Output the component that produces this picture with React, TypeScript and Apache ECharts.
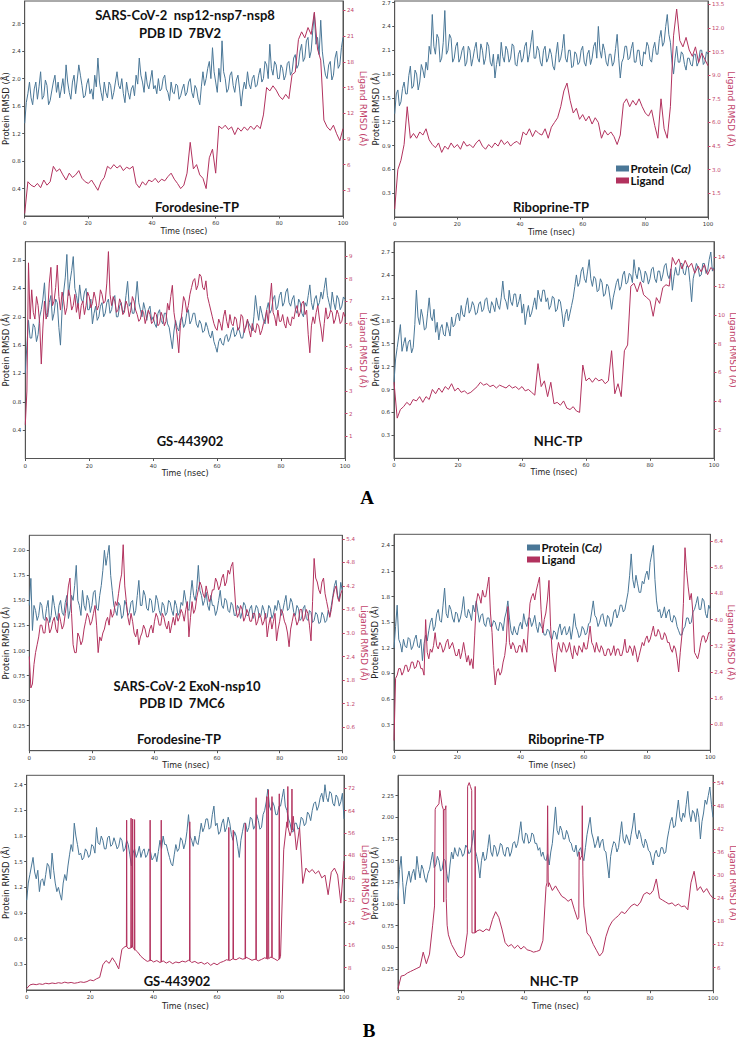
import React, { useEffect, useRef } from "react";
import * as echarts from "echarts";

// ---------- data: Time in nsec from 0 to 100; arrays are evenly spaced frames ----------
const X_TICKS = [0, 20, 40, 60, 80, 100];

// A: SARS-CoV-2 nsp12-nsp7-nsp8 (7BV2) — every 0.5 ns for protein, 1 ns for ligands unless stated
const P1_PROTEIN = [1.35,1.65,1.78,1.95,1.72,1.62,1.85,1.95,1.70,1.88,2.10,1.70,1.75,1.98,1.90,1.62,1.68,1.82,1.95,2.05,1.80,1.95,1.72,1.85,2.00,1.78,2.20,1.95,1.80,1.70,1.95,2.05,1.78,1.98,2.20,2.05,1.90,1.72,1.75,1.92,2.00,1.78,1.85,1.70,2.05,1.88,2.30,1.95,1.80,1.68,1.95,1.80,1.72,1.95,1.90,1.70,1.80,1.95,2.10,1.90,1.85,2.00,1.78,1.65,1.95,1.80,1.70,1.85,1.90,1.75,2.05,1.92,2.30,2.05,1.95,1.80,2.10,1.92,1.85,1.98,2.12,1.85,1.90,1.78,2.00,1.82,1.85,2.00,2.05,1.85,1.80,1.68,1.95,1.80,1.78,1.92,1.90,1.70,1.75,1.85,1.92,1.75,1.80,1.95,2.00,1.80,1.72,1.90,1.85,1.70,1.62,1.88,2.10,1.90,2.00,2.15,2.25,2.00,2.45,2.10,1.95,1.80,2.15,1.95,2.55,2.10,2.00,1.80,1.85,2.05,2.10,1.90,1.80,1.98,2.05,1.85,1.60,1.82,1.95,1.85,2.10,1.92,1.85,2.00,2.05,1.88,1.90,2.05,2.15,1.95,2.00,2.25,2.20,2.00,2.50,2.15,2.05,2.25,2.20,2.00,2.00,2.20,2.15,1.98,2.05,2.22,2.25,2.05,2.10,2.30,2.35,2.15,2.20,2.40,2.50,2.25,2.30,2.55,2.60,2.30,2.40,2.70,2.95,2.50,2.60,2.35,2.85,2.40,2.20,2.05,2.00,2.20,2.25,1.98,2.05,2.30,2.40,2.15,2.20,2.45,2.60];
const P1_LIGAND = [0.3,4.0,3.6,3.4,3.8,3.3,4.2,3.6,4.0,5.8,5.2,5.5,4.8,4.2,5.0,4.5,4.8,5.3,4.4,4.0,3.8,4.2,3.6,3.0,4.0,4.5,5.8,5.5,6.0,5.6,5.9,5.3,5.7,5.5,5.8,3.8,3.3,4.0,3.6,4.2,4.0,4.4,3.9,4.3,4.1,4.6,5.0,4.3,3.8,3.2,3.6,5.0,8.6,5.5,6.0,4.8,4.4,3.2,6.8,7.8,5.0,10.5,10.2,10.6,10.1,10.4,9.5,10.3,9.9,10.4,10.0,10.5,10.1,10.6,10.2,11.8,15.0,14.6,15.2,14.7,14.0,13.6,14.2,13.7,16.5,16.8,20.6,21.5,20.8,22.0,21.2,23.8,19.5,18.2,11.2,10.4,10.0,10.6,9.6,8.8,10.2];
const P2_PROTEIN = [1.30,1.55,1.60,1.40,1.45,1.62,1.70,1.55,1.55,1.78,1.90,1.62,1.65,1.85,1.80,1.60,1.70,1.92,1.85,1.75,1.95,1.85,2.15,2.05,2.55,2.15,2.05,2.30,2.25,1.95,2.00,2.20,2.60,2.05,2.10,2.30,2.25,1.95,2.00,2.15,2.20,1.95,2.00,2.10,2.15,1.90,1.95,2.15,2.10,1.90,2.00,2.12,2.20,2.00,1.95,2.18,2.10,1.92,2.00,2.20,2.15,1.95,1.90,2.05,1.75,1.92,2.05,1.90,2.20,2.02,1.95,2.15,2.10,1.95,2.00,2.18,2.15,1.92,1.90,2.05,2.10,1.95,2.00,2.15,2.20,1.95,2.05,2.20,2.35,2.00,2.00,2.15,2.10,1.95,1.90,2.10,2.15,1.95,2.00,2.12,2.05,1.90,1.85,2.05,2.20,1.95,2.00,2.12,2.30,2.00,1.95,2.10,2.10,1.88,1.90,2.08,2.05,1.92,1.95,2.10,2.15,1.95,1.90,2.05,2.10,1.92,2.00,2.15,2.20,2.00,2.40,2.10,2.00,2.18,2.10,1.95,1.90,2.05,2.05,1.90,1.95,2.12,2.30,2.00,1.75,1.95,2.00,2.15,2.15,1.98,2.00,2.12,2.20,1.95,1.95,2.10,2.10,1.92,1.90,2.08,2.05,2.20,2.15,1.98,1.95,2.12,2.20,2.05,2.05,2.25,2.35,2.15,2.20,2.40,2.55,2.30,2.20,1.95,1.80,2.00,2.15,1.95,1.95,2.08,2.05,1.92,1.85,2.00,2.00,1.92,1.90,2.05,2.05,1.90,1.95,2.10,2.10,1.92,1.95,2.08,2.05];
const P2_LIGAND = [0.5,3.0,3.6,4.6,7.0,5.0,5.3,5.0,5.4,5.2,5.6,4.9,4.6,4.4,4.7,4.1,4.5,4.3,4.7,4.4,4.6,4.3,4.8,4.5,4.6,4.4,4.7,4.9,4.5,4.3,4.6,4.4,4.7,4.5,4.9,4.6,4.8,4.5,4.7,4.8,4.6,5.4,5.2,5.6,5.1,5.5,5.3,5.2,5.6,5.0,5.7,6.0,6.3,7.0,8.0,8.5,7.4,6.6,6.9,6.2,6.5,6.1,6.4,5.9,6.3,6.0,5.0,5.5,5.2,5.4,5.1,4.6,5.2,7.2,7.5,7.0,7.4,7.1,7.5,7.0,6.6,6.4,6.8,5.8,5.0,7.5,5.6,5.0,7.0,11.5,13.2,11.2,10.8,11.4,10.6,10.2,10.8,9.8,10.4,10.0,9.6];
const P3_PROTEIN = [1.20,1.60,1.95,1.70,1.70,1.90,1.85,1.65,1.75,2.00,2.10,2.25,2.48,2.05,2.00,2.20,2.30,1.95,2.05,2.25,2.20,1.85,1.60,2.10,2.35,2.55,2.88,2.30,2.50,2.65,2.85,2.40,2.30,2.15,2.45,2.25,2.20,2.35,2.40,2.10,2.10,2.25,1.90,2.05,2.15,1.95,2.00,2.15,2.20,2.00,2.05,2.20,2.25,2.05,2.10,2.25,2.30,2.00,2.00,2.15,2.20,2.05,2.10,2.30,2.50,2.15,2.20,2.05,2.05,2.25,2.50,2.20,2.10,2.00,2.20,2.10,1.95,2.10,2.15,1.95,2.00,1.90,1.85,2.05,2.10,1.95,1.90,2.05,2.05,1.90,1.85,1.70,1.55,1.80,1.95,1.85,1.80,1.95,2.00,1.85,1.90,2.05,2.10,1.90,1.95,2.05,2.05,1.90,1.85,1.95,1.90,1.78,1.80,1.92,1.85,1.75,1.70,1.80,1.65,1.58,1.50,1.65,1.70,1.62,1.60,1.72,1.75,1.65,1.70,1.80,1.85,1.72,1.75,1.85,1.80,1.70,1.70,1.82,1.85,1.95,1.90,1.85,1.80,2.00,2.30,2.10,1.95,2.15,2.05,1.95,1.90,2.10,2.20,2.05,2.10,2.25,2.30,2.10,2.15,2.30,2.35,2.15,2.20,2.35,2.40,2.20,2.15,2.25,2.30,2.10,2.05,2.25,2.20,2.05,2.00,2.20,2.15,2.30,2.45,2.20,2.10,2.25,2.30,2.15,2.20,2.35,2.25,2.40,2.55,2.30,2.20,2.10,2.35,2.20,2.10,2.30,2.25,2.10,2.15,2.28,2.25];
const P3_LIGAND = [1.5,3.0,8.7,6.2,7.5,6.5,6.2,7.2,6.8,6.0,4.2,5.8,7.0,6.2,6.5,7.8,8.5,6.8,7.0,7.6,8.6,7.2,6.6,7.4,7.0,6.4,6.7,7.5,7.2,6.6,6.8,7.3,6.5,6.9,6.2,6.8,7.0,6.4,6.8,7.4,7.2,6.7,6.9,7.4,7.1,6.6,6.8,7.5,7.3,6.9,7.0,7.8,9.2,7.3,6.8,7.2,7.0,6.5,6.6,7.1,6.9,6.4,6.5,7.0,6.8,6.3,6.6,7.2,7.0,6.6,6.4,6.1,6.2,6.6,6.5,6.0,6.3,6.6,6.4,6.0,6.1,6.5,6.4,5.9,6.0,6.5,6.3,5.9,6.1,6.9,6.6,7.2,7.7,6.5,6.0,5.5,4.7,5.9,6.5,7.2,7.0,6.5,6.8,7.3,7.6,7.9,8.0,7.5,7.7,8.2,8.1,7.6,7.5,7.9,7.2,6.9,6.6,6.3,6.0,5.8,5.7,6.2,6.0,5.7,6.3,6.6,6.1,5.8,6.4,6.0,5.9,6.3,6.2,5.7,5.8,6.4,6.3,5.6,5.9,6.2,5.7,5.4,6.0,5.7,5.6,6.0,5.9,5.5,5.7,6.0,6.2,6.6,6.0,7.0,7.8,6.5,6.3,5.9,6.6,6.1,6.1,6.4,6.0,5.8,6.3,6.0,5.9,6.3,6.2,6.6,6.8,6.3,6.5,6.9,7.0,6.4,6.6,5.5,4.7,5.9,6.3,6.0,6.5,6.8,6.2,5.8,5.2,6.0,6.7,6.2,6.3,6.6,6.5,6.0,6.2,6.6,6.4,6.0,6.1,6.5,6.3];
const P4_PROTEIN = [1.00,1.30,1.45,1.60,1.75,1.40,1.50,1.58,1.40,1.52,1.55,1.38,1.45,1.75,2.20,1.85,1.75,1.95,1.85,1.68,1.70,1.90,2.10,1.85,1.80,1.95,1.65,1.78,1.55,1.70,1.75,1.62,1.60,1.78,1.70,1.60,1.85,1.72,1.75,1.88,1.90,1.80,2.00,1.88,1.85,2.00,2.10,1.90,1.95,2.05,2.00,1.88,1.90,2.02,2.05,1.92,1.95,2.08,2.10,1.95,1.90,2.05,2.00,1.92,2.10,2.00,1.95,2.10,2.32,2.10,2.05,1.95,2.20,2.05,2.00,2.15,2.15,1.98,2.05,2.15,1.90,2.02,1.75,1.90,2.00,1.85,1.90,2.00,2.10,1.95,2.20,2.10,2.05,2.20,2.20,2.05,2.10,1.95,2.00,2.12,2.10,1.92,1.95,2.08,2.05,1.90,1.72,1.88,1.95,1.80,1.90,2.00,2.10,2.25,2.40,2.25,2.30,2.45,2.50,2.35,2.30,2.45,2.60,2.35,2.25,2.38,2.35,2.18,2.20,2.35,2.30,2.12,2.15,2.28,2.25,2.10,1.95,2.10,2.20,2.30,2.35,2.20,2.25,2.40,2.45,2.28,2.30,2.42,2.40,2.30,2.60,2.42,2.35,2.50,2.45,2.32,2.30,2.45,2.40,2.28,2.35,2.48,2.50,2.35,2.30,2.45,2.45,2.32,2.40,2.52,2.55,2.40,2.35,2.48,2.20,2.38,2.50,2.40,2.40,2.55,2.55,2.42,2.40,2.52,2.50,2.30,2.05,2.35,2.45,2.55,2.50,2.38,2.40,2.55,2.55,2.42,2.45,2.60,2.70,2.45,2.50];
const P4_LIGAND = [5.3,2.8,3.4,3.6,3.9,3.7,4.1,4.0,4.3,3.9,4.3,4.1,4.8,4.5,4.9,4.6,5.0,4.8,5.2,4.7,4.9,4.6,4.7,4.5,4.6,4.8,5.0,5.3,5.1,5.2,5.0,5.1,4.9,5.1,5.0,4.9,5.1,4.9,5.0,4.8,5.0,4.7,4.8,4.6,4.4,6.6,5.0,5.4,4.3,5.3,3.8,3.9,3.7,4.0,3.5,3.4,3.6,3.3,3.2,6.5,5.4,5.6,5.3,5.6,5.4,5.5,5.2,5.4,7.5,4.5,5.2,4.3,7.5,7.9,12.0,12.2,11.6,12.3,11.4,11.2,11.0,9.9,11.2,10.8,11.9,12.1,12.0,14.0,13.5,13.9,13.2,13.8,13.3,13.6,12.9,13.4,13.0,13.5,12.8,13.3,13.1];

// B: SARS-CoV-2 ExoN-nsp10 (7MC6)
const P5_PROTEIN = [1.45,1.72,1.20,1.45,1.40,1.30,1.35,1.48,1.45,1.32,1.30,1.42,1.50,1.28,1.35,1.55,1.45,1.35,1.30,1.45,1.50,1.38,1.35,1.48,1.55,1.32,1.40,1.55,1.50,1.65,1.85,1.50,1.45,1.35,1.60,1.45,1.40,1.55,1.50,1.38,1.45,1.58,1.60,1.42,1.40,1.55,1.65,1.80,2.00,1.85,1.95,2.05,1.75,1.60,1.45,1.40,1.35,1.48,1.45,1.32,1.35,1.50,1.45,1.35,1.38,1.48,1.50,1.35,1.40,1.55,1.70,1.45,1.45,1.60,1.55,1.42,1.40,1.52,1.50,1.38,1.40,1.55,1.50,1.40,1.35,1.48,1.45,1.35,1.38,1.50,1.48,1.40,1.35,1.50,1.45,1.35,1.38,1.48,1.45,1.60,1.50,1.42,1.40,1.55,1.70,1.55,1.50,1.62,1.85,1.60,1.55,1.45,1.50,1.58,1.45,1.40,1.55,1.45,1.45,1.35,1.40,1.50,1.60,1.45,1.42,1.52,1.50,1.40,1.38,1.48,1.45,1.35,1.35,1.45,1.42,1.32,1.38,1.48,1.45,1.35,1.35,1.42,1.45,1.32,1.38,1.45,1.42,1.33,1.35,1.45,1.40,1.32,1.33,1.45,1.42,1.32,1.36,1.45,1.40,1.50,1.45,1.35,1.40,1.48,1.55,1.40,1.42,1.52,1.48,1.38,1.35,1.45,1.42,1.30,1.32,1.42,1.45,1.32,1.30,1.40,1.38,1.28,1.30,1.38,1.36,1.27,1.28,1.38,1.35,1.28,1.30,1.40,1.35,1.45,1.55,1.65,1.70,1.55,1.50,1.68,1.60];
const P5_LIGAND = [2.4,1.6,1.7,2.2,2.5,2.7,2.9,3.2,3.2,3.0,3.0,3.4,3.3,3.0,3.1,3.3,3.4,3.1,3.0,3.5,3.3,3.1,3.2,3.5,3.8,4.2,4.4,3.5,2.7,2.5,2.5,3.0,2.9,2.7,2.8,3.1,3.3,3.5,3.4,3.2,3.3,3.5,3.7,3.2,2.5,2.9,2.8,3.0,3.1,3.3,3.4,3.2,3.6,3.4,3.5,3.8,3.7,4.0,4.3,4.5,5.25,4.2,3.8,3.4,3.2,3.5,3.3,3.0,2.9,3.1,2.7,2.9,3.0,3.2,3.1,2.9,2.9,3.1,3.2,3.0,3.3,3.5,3.4,3.2,3.2,3.5,3.4,3.2,3.1,3.3,3.0,3.2,3.4,3.2,3.5,3.3,3.4,3.6,3.5,3.3,3.6,3.8,2.9,3.4,3.8,3.5,3.6,3.9,4.1,4.3,4.2,4.0,3.9,4.2,4.0,3.8,3.9,4.1,4.1,4.4,4.3,4.1,4.2,4.4,4.5,4.2,4.3,4.6,4.5,4.7,4.8,4.2,3.6,3.4,3.5,3.7,3.6,3.3,3.4,3.6,3.5,3.3,3.3,3.5,3.5,3.2,3.3,3.5,3.4,3.2,3.3,3.5,2.9,3.2,3.4,3.1,3.3,3.5,2.8,3.1,3.3,3.6,3.5,3.3,3.2,3.0,2.65,3.1,3.3,3.5,3.4,3.2,3.3,3.6,3.6,3.3,3.4,3.6,3.5,3.2,2.8,3.8,4.9,4.4,4.3,4.1,4.0,4.3,4.4,4.0,3.8,3.6,3.4,3.6,3.9,4.1,4.2,3.9,3.8,4.0,4.1];
const P6_PROTEIN = [1.20,1.45,1.70,1.30,1.25,1.15,1.30,1.22,1.20,1.32,1.30,1.18,1.22,1.30,1.35,1.22,1.20,1.30,1.05,1.25,1.35,1.28,1.40,1.50,1.55,1.40,1.45,1.60,1.65,1.52,1.50,1.70,1.90,1.60,1.55,1.70,1.65,1.55,1.50,1.62,1.60,1.50,1.55,1.65,1.80,1.58,1.55,1.65,1.60,1.52,1.70,1.62,1.75,1.62,1.50,1.58,1.60,1.48,1.45,1.55,1.55,1.45,1.45,1.52,1.50,1.42,1.40,1.50,1.48,1.40,1.55,1.62,1.75,1.55,1.40,1.35,1.45,1.38,1.35,1.45,1.50,1.42,1.60,1.50,1.45,1.55,1.55,1.45,1.50,1.58,1.45,1.38,1.50,1.45,1.42,1.35,1.35,1.42,1.40,1.32,1.30,1.40,1.38,1.30,1.42,1.48,1.35,1.42,1.45,1.35,1.38,1.45,1.30,1.42,1.60,1.45,1.40,1.32,1.35,1.45,1.42,1.35,1.38,1.48,1.50,1.62,1.75,1.58,1.55,1.45,1.50,1.58,1.60,1.50,1.45,1.58,1.55,1.45,1.50,1.62,1.65,1.55,1.60,1.70,1.70,1.62,1.65,1.75,1.85,2.05,2.30,2.00,1.90,2.05,1.95,1.85,1.85,1.98,1.95,2.05,2.10,2.00,2.20,2.30,2.40,2.00,1.75,1.62,1.65,1.55,1.60,1.68,1.55,1.62,1.65,1.52,1.50,1.58,1.55,1.45,1.40,1.35,1.35,1.42,1.45,1.55,1.55,1.48,1.50,1.62,1.65,1.72,1.80,1.65,1.65,1.78,1.75,1.60,1.55,1.70,1.65];
const P6_LIGAND = [0.3,2.2,2.3,2.5,2.5,2.3,2.4,2.6,2.6,2.4,2.5,2.7,2.7,2.5,2.55,2.75,2.7,2.5,2.5,2.3,4.0,3.0,2.8,3.1,3.0,3.2,3.6,3.2,3.1,3.3,3.2,3.0,3.1,3.3,3.4,3.1,3.2,3.3,3.1,2.9,2.9,3.1,2.8,3.0,3.3,3.0,2.7,2.9,2.6,2.8,2.5,3.5,4.5,4.8,4.7,4.5,4.9,4.7,4.7,5.0,5.3,4.2,3.6,2.6,2.0,2.4,2.5,2.3,2.4,2.7,2.9,3.3,4.4,3.3,3.1,3.3,3.2,3.0,3.0,3.2,3.2,3.0,3.4,3.2,3.0,3.8,4.5,4.7,4.8,4.6,4.9,5.1,5.3,4.3,3.6,4.0,4.2,4.6,5.2,3.8,3.0,2.7,2.4,3.0,3.3,3.1,3.0,3.3,3.2,3.0,3.1,3.3,3.0,2.8,3.2,3.0,2.9,3.2,3.1,3.0,3.3,3.1,3.1,3.4,3.8,3.3,3.2,3.0,3.3,3.1,3.0,3.2,3.1,2.9,2.9,3.1,3.1,2.9,3.0,3.2,2.9,3.1,3.1,2.9,2.9,3.1,3.4,3.0,3.0,3.2,3.1,2.9,3.2,3.0,2.7,2.9,3.1,3.3,3.2,3.4,3.5,3.3,3.4,3.6,3.8,3.5,3.5,3.7,3.6,3.4,3.4,3.6,3.5,3.3,3.3,3.1,3.0,3.2,3.1,2.8,2.4,3.0,3.5,4.5,6.2,5.5,5.0,4.6,4.8,4.2,3.0,2.9,2.8,3.0,3.3,3.5,3.5,3.3,3.4,3.6,3.6];
const P7_PROTEIN = [1.05,1.25,1.35,1.45,1.55,1.38,1.30,1.40,1.15,1.28,1.30,1.22,1.35,1.48,1.45,1.30,1.60,1.40,1.25,1.15,1.20,1.12,1.05,1.25,1.35,1.28,1.45,1.58,1.70,1.62,1.95,1.80,1.70,1.58,1.60,1.52,1.55,1.65,1.62,1.55,1.58,1.70,1.68,1.60,1.90,1.72,1.70,1.80,1.75,1.65,1.65,1.78,1.80,1.68,1.70,1.78,1.72,1.65,1.68,1.78,1.75,1.62,1.65,1.75,1.70,1.58,1.45,1.60,1.65,1.55,1.60,1.68,1.55,1.62,1.65,1.55,1.58,1.65,1.62,1.52,1.55,1.60,1.50,1.62,1.75,1.65,1.80,1.70,1.70,1.62,1.55,1.48,1.45,1.58,1.70,1.62,1.65,1.78,1.75,1.65,1.72,1.85,2.05,1.80,1.75,1.68,1.80,1.72,1.70,1.82,1.95,1.85,1.90,2.00,2.00,1.88,1.90,2.05,2.15,1.92,1.95,1.82,1.85,1.95,2.00,1.85,1.90,2.02,1.95,1.82,1.75,1.85,1.80,1.68,1.55,1.75,1.85,1.95,1.95,1.85,1.90,2.02,2.00,1.88,1.92,2.05,1.98,1.88,1.90,2.05,2.10,2.20,2.35,2.15,2.10,2.20,2.15,2.05,2.05,2.15,2.15,2.25,2.35,2.15,2.10,2.00,1.95,1.85,1.85,1.95,1.95,1.88,1.90,2.02,2.00,1.92,1.95,2.08,2.05,1.98,2.10,2.18,2.20,2.10,2.15,2.25,2.30,2.20,2.40,2.25,2.20,2.32,2.30,2.18,2.15,2.28,2.25,2.15,2.20,2.30,2.00];
const P7_LIGAND = [0.5,1.8,2.1,1.9,2.2,2.0,2.4,2.2,2.5,2.3,2.6,2.4,2.8,2.5,2.7,2.4,2.6,2.9,2.7,3.0,3.6,3.3,4.0,4.5,9.0,10.5,9.5,11.5,9.8,7.5,14.5,15.5,14.8,15.8,14.2,13.5,12.0,11.0,10.2,10.8,10.0,10.5,9.8,10.4,9.6,10.2,9.4,10.0,9.7,10.3,10.0,10.6,9.8,10.2,9.5,9.9,9.2,9.8,8.8,9.6,9.0,9.8,10.2,10.8,10.5,11.2,10.8,11.5,11.0,11.8,11.2,10.6,11.0,10.4,10.9,11.5,11.0,11.8,11.2,10.5,12.0,50.0,60.0,55.0,62.0,50.0,58.0,38.0,43.5,42.0,43.0,41.5,42.5,40.0,41.0,34.0,42.0,43.5,41.0,31.0,46.0];
// single-frame excursions of the ligand: [time, peak, level before/after]
const P7_LIGAND_SPIKES = [[31.5,60.6,15.5],[32.9,61.3,15.0],[33.4,61.0,15.3],[34.0,60.8,14.5],[38.9,60.6,10.5],[42.4,60.6,10.0],[51.4,60.0,10.4],[63.7,58.0,10.6],[65.1,57.0,11.0],[68.9,59.5,11.2],[72.3,68.6,10.8],[75.7,69.0,11.2],[76.2,71.4,11.2],[77.3,69.0,11.5],[79.6,70.0,11.0],[82.3,72.6,58.0],[83.6,71.7,57.0]];
const P8_PROTEIN = [1.05,1.40,1.55,1.25,1.00,1.20,1.30,1.38,1.25,1.35,1.40,1.28,1.55,1.40,1.30,1.45,1.40,1.30,1.25,1.35,1.40,1.50,1.60,1.42,1.45,1.55,1.50,1.38,1.40,1.52,1.50,1.35,1.25,1.45,1.60,1.52,1.65,1.58,1.55,1.65,1.62,1.55,1.58,1.68,1.65,1.58,1.60,1.70,1.85,1.62,1.55,1.45,1.30,1.50,1.60,1.50,1.52,1.65,1.80,1.60,1.55,1.68,1.65,1.55,1.60,1.70,1.68,1.58,1.55,1.65,1.65,1.55,1.60,1.70,1.72,1.65,1.70,1.82,1.95,1.75,1.70,1.82,1.80,1.70,1.72,1.82,1.80,1.70,1.70,1.62,1.65,1.55,1.60,1.52,1.50,1.58,1.45,1.60,1.70,1.90,2.12,1.85,1.80,1.90,1.85,1.75,1.75,1.85,1.80,1.72,1.70,1.62,1.60,1.68,1.55,1.62,1.65,1.55,1.50,1.65,1.80,1.90,2.00,1.82,1.75,1.65,1.70,1.78,1.65,1.72,1.75,1.62,1.60,1.45,1.30,1.55,1.65,1.72,1.70,1.60,1.65,1.80,1.95,1.75,1.70,1.80,1.75,1.68,1.80,1.90,2.05,1.82,1.75,1.85,1.80,1.70,1.65,1.75,1.70,1.62,1.60,1.52,1.45,1.58,1.62,1.55,1.55,1.65,1.65,1.58,1.60,1.75,1.85,1.95,2.00,1.88,1.90,2.05,2.20,2.00,1.95,2.05,2.00,2.15,2.30,2.05,1.95,2.08,2.05,1.95,2.10,2.00,1.75,1.95,2.05,2.20,2.15,2.25,2.35,2.15,2.00];
const P8_LIGAND = [0.5,3.8,4.0,4.6,5.0,5.4,5.8,6.2,10.0,7.0,9.5,17.0,47.5,48.5,48.0,47.0,14.5,12.0,10.5,9.0,8.5,9.2,15.0,53.0,15.0,15.5,15.8,15.3,16.0,15.6,18.5,20.5,19.0,16.0,12.5,11.5,12.0,11.0,11.8,10.8,11.5,10.6,10.4,10.0,10.2,10.5,13.0,27.0,28.0,26.0,27.2,25.8,24.5,24.0,23.2,23.8,21.0,18.5,34.5,22.0,15.0,14.0,12.0,10.5,9.0,10.0,14.0,16.5,18.0,18.8,19.5,20.5,20.0,21.0,22.0,22.5,22.0,23.0,25.0,25.5,25.0,26.0,29.0,24.0,23.5,23.0,22.5,22.8,22.0,22.5,21.8,22.0,21.0,28.0,31.0,26.0,27.0,25.5,26.5,25.0,24.0];
// extra ligand frames read between whole nanoseconds: [time, value]
const P8_LIGAND_EXTRA = [[11.6,22],[11.8,47],[13.3,52],[14.4,47],[14.5,23],[14.6,47],[15.2,48],[15.3,24],[15.6,17],[22.0,16],[22.1,53],[22.6,54],[23.4,52],[23.5,15],[24.4,15],[24.5,53],[24.6,15],[47.3,28],[47.5,48],[47.7,27],[57.4,19],[57.5,36],[57.8,34],[58.4,35],[58.5,48],[58.7,30]];

const LEFT_NAME = "Protein RMSD (\u00c5)";
const RIGHT_NAME = "Ligand RMSD (\u00c5)";
const X_NAME = "Time (nsec)";
const LEGEND_PROTEIN = "Protein (C";
const LEGEND_PROTEIN_IT = "\u03b1)";
const LEGEND_LIGAND = "Ligand";

// ---------- style ----------
const BLUE = "#4a7797";
const RED = "#b2325e";
const RED_TXT = "#c2446c";
const AXIS = "#555";

// evenly spaced frames over 0..100 ns
const frames = (arr: number[]) => {
  const step = 100 / (arr.length - 1);
  return arr.map((v, i) => [+(i * step).toFixed(3), v]);
};
const withSpikes = (arr: number[], spikes: number[][]) => {
  const pts = frames(arr);
  spikes.forEach(([t, p, b]) => pts.push([t - 0.08, b], [t, p], [t + 0.08, b]));
  return pts.sort((a, b) => a[0] - b[0]);
};
const withExtra = (arr: number[], extra: number[][]) =>
  frames(arr).concat(extra.map((p) => [p[0], p[1]])).sort((a, b) => a[0] - b[0]);

type Panel = {
  box: number[]; // left, top, right, bottom
  l: number[]; // max, interval, decimals
  r: number[];
  lGap: number;
  rGap: number;
  xGap: number;
  prot: number[][];
  lig: number[][];
};

const PANELS: Panel[] = [
  { box: [24.7, 1, 343, 216], l: [3.13, 0.4, 1], r: [25.1, 3, 0], lGap: 14.5, rGap: 15, xGap: 11.5, prot: frames(P1_PROTEIN), lig: frames(P1_LIGAND) },
  { box: [394.7, 1, 708, 217], l: [2.72, 0.3, 1], r: [13.71, 1.5, 1], lGap: 14.5, rGap: 18.5, xGap: 11, prot: frames(P2_PROTEIN), lig: frames(P2_LIGAND) },
  { box: [25.3, 241.7, 345, 458.5], l: [3.06, 0.4, 1], r: [9.64, 1, 0], lGap: 15, rGap: 13.3, xGap: 10.5, prot: frames(P3_PROTEIN), lig: frames(P3_LIGAND) },
  { box: [394, 241.7, 714, 458.3], l: [2.835, 0.3, 1], r: [15.1, 2, 0], lGap: 14, rGap: 14, xGap: 10.5, prot: frames(P4_PROTEIN), lig: frames(P4_LIGAND) },
  { box: [29.3, 535.3, 342.3, 750.7], l: [2.15, 0.25, 2], r: [5.49, 0.6, 1], lGap: 19, rGap: 17.5, xGap: 11, prot: frames(P5_PROTEIN), lig: frames(P5_LIGAND) },
  { box: [394, 534.3, 710.3, 750.3], l: [2.53, 0.3, 1], r: [6.61, 0.8, 1], lGap: 14.5, rGap: 16.5, xGap: 11, prot: frames(P6_PROTEIN), lig: frames(P6_LIGAND) },
  { box: [26.7, 775.3, 344, 990], l: [2.51, 0.3, 1], r: [76.6, 8, 0], lGap: 16.5, rGap: 16, xGap: 12, prot: frames(P7_PROTEIN), lig: withSpikes(P7_LIGAND, P7_LIGAND_SPIKES) },
  { box: [398, 775.3, 713, 990.7], l: [2.485, 0.25, 2], r: [55.9, 6, 0], lGap: 18.5, rGap: 15, xGap: 12, prot: frames(P8_PROTEIN), lig: withExtra(P8_LIGAND, P8_LIGAND_EXTRA) },
];

const TICK_FONT = "DejaVu Sans";
const TITLE_FONT = "Lato";

function buildOption() {
  const grid: any[] = [];
  const xAxis: any[] = [];
  const yAxis: any[] = [];
  const series: any[] = [];
  PANELS.forEach((p, i) => {
    const [l, t, r, b] = p.box;
    grid.push({ left: l, top: t, width: r - l, height: b - t, show: true, borderColor: AXIS, borderWidth: 1, backgroundColor: "transparent", containLabel: false, outerBoundsMode: "none" });
    xAxis.push({
      type: "value", gridIndex: i, min: X_TICKS[0], max: X_TICKS[X_TICKS.length - 1], interval: X_TICKS[1] - X_TICKS[0],
      name: X_NAME, nameLocation: "middle", nameGap: p.xGap, nameMoveOverlap: false,
      nameTextStyle: { fontFamily: TICK_FONT, fontSize: 8, color: "#222" },
      axisLine: { show: true, onZero: false, lineStyle: { color: AXIS, width: 1 } },
      axisTick: { show: true, length: 2.5, lineStyle: { color: AXIS } },
      axisLabel: { fontFamily: TICK_FONT, fontSize: 5.5, color: "#333", margin: 4 },
      splitLine: { show: false },
    });
    const fmt = (d: number) => (v: number) => v.toFixed(d);
    yAxis.push({
      type: "value", gridIndex: i, position: "left", min: 0, max: p.l[0], interval: p.l[1],
      name: LEFT_NAME, nameLocation: "middle", nameGap: p.lGap, nameMoveOverlap: false,
      nameTextStyle: { fontFamily: TICK_FONT, fontSize: 8.5, color: "#222" },
      axisLine: { show: true, onZero: false, lineStyle: { color: AXIS, width: 1 } },
      axisTick: { show: true, length: 2.5, lineStyle: { color: AXIS } },
      axisLabel: { fontFamily: TICK_FONT, fontSize: 5.5, color: "#333", margin: 4, showMinLabel: false, showMaxLabel: false, formatter: fmt(p.l[2]) },
      splitLine: { show: false },
    });
    yAxis.push({
      type: "value", gridIndex: i, position: "right", min: 0, max: p.r[0], interval: p.r[1],
      name: RIGHT_NAME, nameLocation: "middle", nameGap: p.rGap, nameRotate: -90, nameMoveOverlap: false,
      nameTextStyle: { fontFamily: TICK_FONT, fontSize: 9, color: RED_TXT },
      axisLine: { show: true, onZero: false, lineStyle: { color: AXIS, width: 1 } },
      axisTick: { show: true, length: 2.5, lineStyle: { color: RED_TXT } },
      axisLabel: { fontFamily: TICK_FONT, fontSize: 5.5, color: RED_TXT, margin: 4, showMinLabel: false, showMaxLabel: false, formatter: fmt(p.r[2]) },
      splitLine: { show: false },
    });
    series.push({
      type: "line", name: "Protein (C\u03b1)", xAxisIndex: i, yAxisIndex: 2 * i, data: p.prot,
      showSymbol: false, symbol: "none", lineStyle: { color: BLUE, width: 1 }, itemStyle: { color: BLUE }, z: 2,
    });
    series.push({
      type: "line", name: "Ligand", xAxisIndex: i, yAxisIndex: 2 * i + 1, data: p.lig,
      showSymbol: false, symbol: "none", lineStyle: { color: RED, width: 1 }, itemStyle: { color: RED }, z: 3,
    });
  });

  const title = (text: string, x: number, y: number, size = 13) => ({
    type: "text", x, y, z: 100,
    style: { text, fontFamily: TITLE_FONT, fontWeight: "bold", fontSize: size, fill: "#111", align: "center", verticalAlign: "middle", textAlign: "center", textVerticalAlign: "middle" },
  });
  const legend = (x: number, y1: number, y2: number) => [
    { type: "rect", shape: { x, y: y1 - 3, width: 13, height: 6 }, style: { fill: BLUE }, z: 100 },
    { type: "rect", shape: { x, y: y2 - 3, width: 13, height: 6 }, style: { fill: RED }, z: 100 },
    {
      type: "text", x: x + 14.5, y: y1, z: 100,
      style: {
        text: "{n|" + LEGEND_PROTEIN + "}{i|" + LEGEND_PROTEIN_IT + "}", align: "left", verticalAlign: "middle", textAlign: "left", textVerticalAlign: "middle",
        rich: {
          n: { fontFamily: TITLE_FONT, fontWeight: "bold", fontSize: 11.5, lineHeight: 11, fill: "#111" },
          i: { fontFamily: TITLE_FONT, fontWeight: "bold", fontStyle: "italic", fontSize: 11.5, lineHeight: 11, fill: "#111" },
        },
      },
    },
    { type: "text", x: x + 14.5, y: y2, z: 100, style: { text: LEGEND_LIGAND, fontFamily: TITLE_FONT, fontWeight: "bold", fontSize: 11.5, lineHeight: 11, fill: "#111", align: "left", verticalAlign: "middle", textAlign: "left", textVerticalAlign: "middle" } },
  ];
  const graphic: any[] = [
    title("SARS-CoV-2  nsp12-nsp7-nsp8", 185, 15),
    title("PDB ID  7BV2", 180, 33),
    title("Forodesine-TP", 197, 207),
    title("Riboprine-TP", 551, 207),
    title("GS-443902", 190, 441),
    title("NHC-TP", 558, 441),
    title("SARS-CoV-2 ExoN-nsp10", 187, 686),
    title("PDB ID  7MC6", 182, 703),
    title("Forodesine-TP", 179, 739),
    title("Riboprine-TP", 566, 739),
    title("GS-443902", 177, 981),
    title("NHC-TP", 554, 981),
    ...legend(616, 168.5, 180.5),
    ...legend(527, 547.5, 559.5),
    { type: "text", x: 367, y: 497, z: 100, style: { text: "A", fontFamily: "Liberation Serif", fontWeight: "bold", fontSize: 19, fill: "#000", align: "center", verticalAlign: "middle", textAlign: "center", textVerticalAlign: "middle" } },
    { type: "text", x: 369, y: 1030, z: 100, style: { text: "B", fontFamily: "Liberation Serif", fontWeight: "bold", fontSize: 19, fill: "#000", align: "center", verticalAlign: "middle", textAlign: "center", textVerticalAlign: "middle" } },
  ];

  return { animation: false, backgroundColor: "#fff", grid, xAxis, yAxis, series, graphic };
}

export default function App() {
  const ref = useRef<HTMLDivElement>(null);
  useEffect(() => {
    if (!ref.current) return;
    const chart = echarts.init(ref.current, undefined, { renderer: "svg" });
    chart.setOption(buildOption() as any);
    return () => chart.dispose();
  }, []);
  return <div ref={ref} style={{ position: "absolute", left: 0, top: 0, width: 736, height: 1040, background: "#fff" }} />;
}
